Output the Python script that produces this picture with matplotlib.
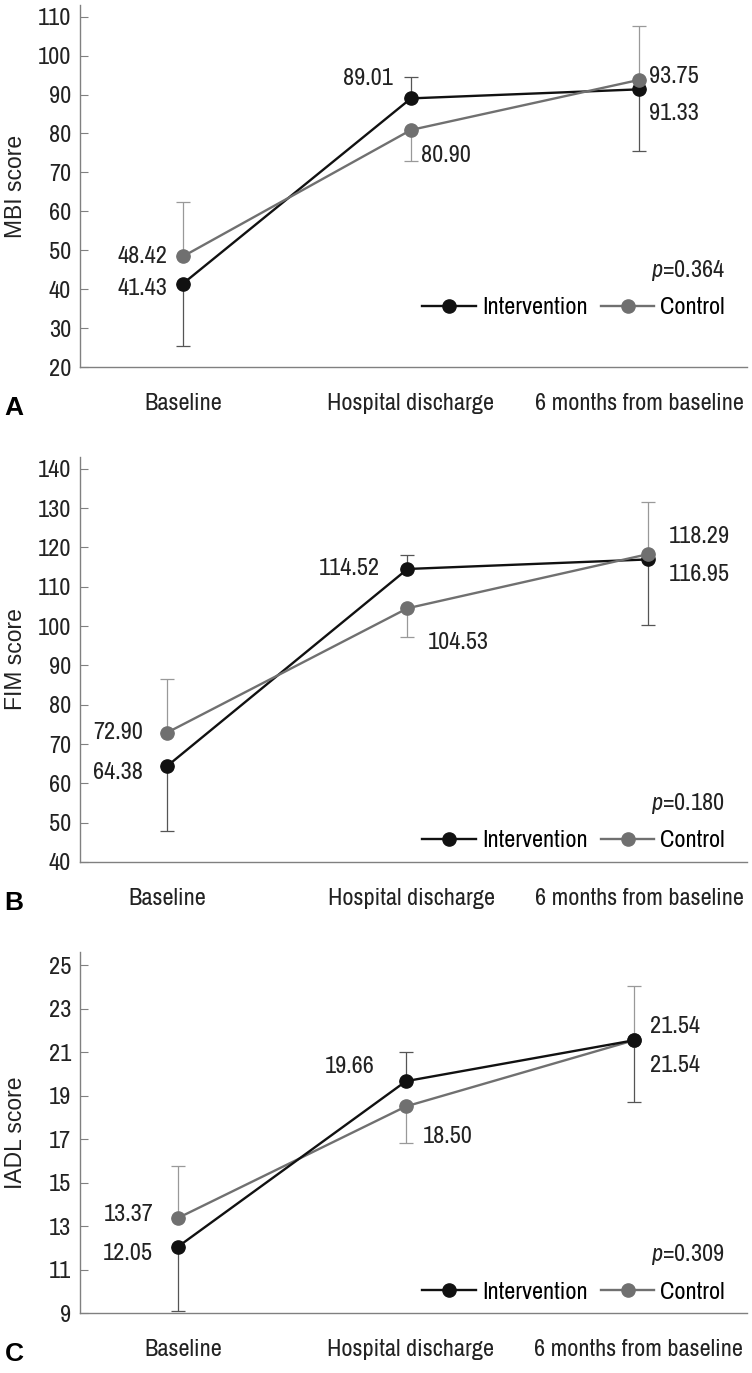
import matplotlib
matplotlib.use("Agg")
import matplotlib.pyplot as plt
import numpy as np

# data
categories = ["Baseline", "Hospital discharge", "6 months from baseline"]

mbi_int = [41.43, 89.01, 91.33]
mbi_ctl = [48.42, 80.90, 93.75]
mbi_int_bar = [25.4, 94.6, 75.5]     # end of SD whisker
mbi_ctl_bar = [62.4, 72.9, 107.6]

fim_int = [64.38, 114.52, 116.95]
fim_ctl = [72.90, 104.53, 118.29]
fim_int_bar = [47.9, 118.0, 100.3]
fim_ctl_bar = [86.6, 97.3, 131.6]

iadl_int = [12.05, 19.66, 21.54]
iadl_ctl = [13.37, 18.50, 21.54]
iadl_int_bar = [9.1, 21.0, 18.7]
iadl_ctl_bar = [15.76, 16.8, 24.05]

p_values = ["0.364", "0.180", "0.309"]
ylabels = ["MBI score", "FIM score", "IADL score"]
letters = ["A", "B", "C"]

NARROW = ["Archivo Narrow", "Liberation Sans Narrow", "DejaVu Sans"]
plt.rcParams["font.family"] = NARROW
plt.rcParams["mathtext.fontset"] = "custom"
plt.rcParams["mathtext.it"] = "Archivo Narrow:italic"
plt.rcParams["mathtext.rm"] = "Archivo Narrow"

W, H = 752, 1373
fig = plt.figure(figsize=(W / 100, H / 100), dpi=100)
FS = 17.5

# panel boxes in pixels: (top, bottom), x limits, y limits, ticks
# lab = where the category names sit (they are not exactly under the points in B and C)
panels = [
    dict(top=5, bot=367, xlim=(-0.452, 2.474), ylim=(20, 113), yt=np.arange(20, 111, 10),
         lab=[0, 1, 2],
         i=mbi_int, c=mbi_ctl, ib=mbi_int_bar, cb=mbi_ctl_bar, leg=0.135, ctl_top=True,
         ioff=[(-16, -5, "right"), (-18, 20, "right"), (10, -24, "left")],
         coff=[(-16, 0, "right"), (10, -26, "left"), (10, 3, "left")]),
    dict(top=457, bot=862, xlim=(-0.362, 2.412), ylim=(40, 143), yt=np.arange(40, 141, 10),
         lab=[0, 1.015, 1.963],
         i=fim_int, c=fim_ctl, ib=fim_int_bar, cb=fim_ctl_bar, leg=0.027, ctl_top=True,
         ioff=[(-24, -6, "right"), (-28, 0, "right"), (21, -15, "left")],
         coff=[(-24, 0, "right"), (20, -34, "left"), (21, 18, "left")]),
    dict(top=952, bot=1313, xlim=(-0.43, 2.496), ylim=(9, 25.6), yt=np.arange(9, 26, 2),
         lab=[0.022, 1.018, 2.018],
         i=iadl_int, c=iadl_ctl, ib=iadl_int_bar, cb=iadl_ctl_bar, leg=0.028, ctl_top=False,
         ioff=[(-25, -7, "right"), (-31, 15, "right"), (16, 14, "left")],
         coff=[(-25, 3, "right"), (17, -30, "left"), (16, -25, "left")]),
]

BLACK = "#111111"
GREY = "#707070"
PX = 0.72  # points per pixel at dpi 100
x = np.arange(len(categories))

for k, p in enumerate(panels):
    ax = fig.add_axes([80 / W, 1 - p["bot"] / H, 667 / W, (p["bot"] - p["top"]) / H])
    zi, zc = (3, 4) if p["ctl_top"] else (4, 3)

    # whiskers (one sided, as in the original)
    for vals, bars, col in [(p["i"], p["ib"], "#555555"), (p["c"], p["cb"], "#999999")]:
        v = np.array(vals)
        b = np.array(bars)
        lo = np.clip(v - b, 0, None)
        hi = np.clip(b - v, 0, None)
        ax.errorbar(x, v, yerr=[lo, hi], fmt="none", ecolor=col, elinewidth=0.9,
                    capsize=5, capthick=0.9, zorder=2)

    ax.plot(x, p["i"], "-o", color=BLACK, lw=1.7, ms=9.5, label="Intervention", zorder=zi)
    ax.plot(x, p["c"], "-o", color=GREY, lw=1.7, ms=9.5, label="Control", zorder=zc)

    for vals, offs in [(p["i"], p["ioff"]), (p["c"], p["coff"])]:
        for xi, v, (dx, dy, ha) in zip(x, vals, offs):
            ax.annotate(f"{v:.2f}", (xi, v), xytext=(dx * PX, dy * PX), textcoords="offset points",
                        ha=ha, va="center", fontsize=FS, color="#222222")

    ax.set_xlim(*p["xlim"])
    ax.set_ylim(*p["ylim"])
    ax.set_yticks(p["yt"])
    ax.set_xticks(p["lab"])
    ax.set_xticklabels(categories)
    ax.tick_params(axis="y", direction="in", length=6, width=0.8, color="#808080",
                   labelsize=FS, pad=6.5, labelcolor="#222222")
    ax.tick_params(axis="x", length=0, labelsize=FS, pad=19, labelcolor="#222222")
    for s in ["top", "right"]:
        ax.spines[s].set_visible(False)
    for s in ["left", "bottom"]:
        ax.spines[s].set_color("#808080")
        ax.spines[s].set_linewidth(1.0)

    ax.set_ylabel(ylabels[k], fontsize=16.5, family=["Liberation Sans", "DejaVu Sans"],
                  color="#222222")
    ax.yaxis.set_label_coords(-53 / 667, 0.5)

    leg = ax.legend(loc="lower right", bbox_to_anchor=(0.967, p["leg"]), ncol=2, frameon=False,
                    fontsize=FS, handlelength=2.2, handletextpad=0.25, columnspacing=0.55,
                    borderpad=0, borderaxespad=0)
    ax.text(0.967, p["leg"] + 48 / (p["bot"] - p["top"]), "$p$=" + p_values[k],
            transform=ax.transAxes, ha="right", va="center", fontsize=FS, color="#222222")

    ax.annotate(letters[k], xy=(0.006, 0), xycoords=("figure fraction", "axes fraction"),
                xytext=(0, -41 * PX), textcoords="offset points", ha="left", va="center",
                fontsize=19, fontweight="bold", family=["Liberation Sans", "DejaVu Sans"])

fig.savefig("out.png", dpi=100)
